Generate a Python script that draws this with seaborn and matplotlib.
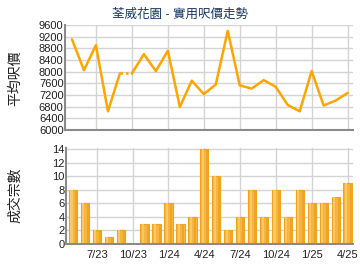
import matplotlib
matplotlib.use("Agg")
import matplotlib.pyplot as plt
import seaborn as sns
import pandas as pd
import numpy as np

months = ["5/23","6/23","7/23","8/23","9/23","10/23","11/23","12/23",
          "1/24","2/24","3/24","4/24","5/24","6/24","7/24","8/24","9/24","10/24","11/24","12/24",
          "1/25","2/25","3/25","4/25"]
price = [9110, 8050, 8910, 6640, 7940, None, 8600, 8020, 8720, 6790, 7690, 7230,
         7560, 9400, 7530, 7420, 7710, 7480, 6860, 6640, 8020, 6840, 7010, 7270]
deals = [8, 6, 2, 1, 2, 0, 3, 3, 6, 3, 4, 14, 10, 2, 4, 8, 4, 8, 4, 8, 6, 6, 7, 9]
tick_labels = ["7/23","10/23","1/24","4/24","7/24","10/24","1/25","4/25"]
title = "荃威花園 - 實用呎價走勢"
ylabel_top = "平均呎價"
ylabel_bot = "成交宗數"

sns.set_style("white")
plt.rcParams['font.family'] = ['Liberation Sans', 'Noto Sans CJK TC', 'DejaVu Sans']

df = pd.DataFrame({"m": months, "i": np.arange(len(months)),
                   "price": pd.Series(price, dtype=float), "deals": deals})
df["price_f"] = df["price"].ffill()
missing = df["price"].isna().to_numpy()

fig = plt.figure(figsize=(3.6, 2.7), dpi=100)
ax1 = fig.add_axes([65/360, 1-130/270, 288/360, 105/270])
ax2 = fig.add_axes([66/360, 1-244/270, 287/360, 96/270])

tick_pos = [months.index(t) for t in tick_labels]
xlim = (-0.58, 23.45)
grid_c = "#d4d4d4"
spine_c = "#8a8a8a"
line_c = "#FFA500"

# solid runs: a carried-forward month starts a new solid run; the step into it is dotted
breaks = [0] + [int(k) for k in np.where(missing)[0]] + [len(df)]
for a, b in zip(breaks[:-1], breaks[1:]):
    sub = df.iloc[a:b][["i", "price_f"]].reset_index(drop=True)
    if len(sub) > 1:
        sns.lineplot(data=sub, x="i", y="price_f", ax=ax1, color=line_c, lw=1.8,
                     estimator=None, sort=False, legend=False)
for idx in np.where(missing)[0]:
    sub = df.iloc[idx-1:idx+1][["i", "price_f"]].reset_index(drop=True)
    sns.lineplot(data=sub, x="i", y="price_f", ax=ax1, color=line_c, lw=1.8,
                 linestyle=(0, (1, 1.2)), estimator=None, sort=False, legend=False)

ax1.set_xlim(*xlim)
ax1.set_ylim(6000, 9600)
ax1.set_yticks(range(6000, 9601, 400))
ax1.set_xticks(tick_pos)
ax1.set_xticklabels([])
ax1.set_xlabel("")
ax1.set_ylabel("")

# bars
sns.barplot(data=df, x="i", y="deals", ax=ax2, color="#F7B540", width=0.7,
            edgecolor="#F2A31C", linewidth=0.8, saturation=1)
for p in list(ax2.patches):
    x0, w, h = p.get_x(), p.get_width(), p.get_height()
    if h > 0:
        ax2.add_patch(plt.Rectangle((x0 + w*0.2, 0), w*0.25, h, color="#FAC868", lw=0, zorder=p.get_zorder()+0.1))
        ax2.add_patch(plt.Rectangle((x0 + w*0.74, 0), w*0.24, h, color="#F0A426", lw=0, zorder=p.get_zorder()+0.1))
ax2.set_xlim(*xlim)
ax2.set_ylim(0, 14.2)
ax2.set_yticks(range(0, 15, 2))
ax2.set_xticks(tick_pos)
ax2.set_xticklabels(tick_labels)
ax2.set_xlabel("")
ax2.set_ylabel("")

for ax in (ax1, ax2):
    ax.grid(True, color=grid_c, lw=1)
    ax.set_axisbelow(True)
    for s in ("top", "right"):
        ax.spines[s].set_visible(False)
    for s in ("left", "bottom"):
        ax.spines[s].set_color(spine_c)
        ax.spines[s].set_linewidth(1.5)
    ax.tick_params(axis="both", labelsize=8, colors="#222222", pad=1, length=0)
ax2.tick_params(axis="x", length=3, color=spine_c, width=1, pad=1)
for t in ax1.get_yticklabels() + ax2.get_yticklabels() + ax2.get_xticklabels():
    t.set_color("#222222")

fig.text(180/360, 1-15/270, title, ha="center", va="center", fontsize=9, color="#17365f")
fig.text(15/360, 1-78/270, ylabel_top, ha="center", va="center", rotation=90, fontsize=10, color="#222222")
fig.text(15/360, 1-195/270, ylabel_bot, ha="center", va="center", rotation=90, fontsize=10, color="#222222")

fig.savefig("out.png", dpi=100)
